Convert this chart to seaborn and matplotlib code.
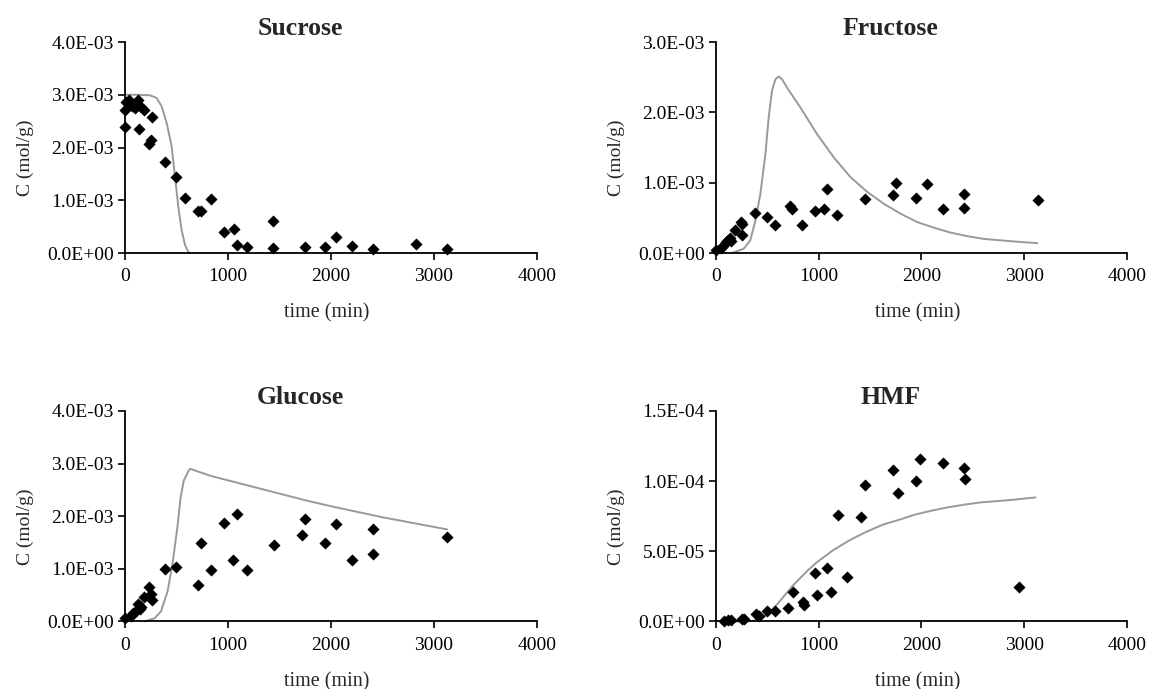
import numpy as np
import pandas as pd
import matplotlib
matplotlib.use("Agg")
import matplotlib.pyplot as plt
from matplotlib.ticker import FuncFormatter
import seaborn as sns

# measured data (time in min, concentration in mol/g)
sucrose_t = [0, 0, 10, 36, 64, 100, 128, 135, 153, 189, 260, 235, 249, 385, 492, 580,
             712, 741, 833, 962, 1054, 1083, 1186, 1435, 1435, 1749, 1945, 2048, 2201,
             2408, 2828, 3124]
sucrose_c = [2.39e-3, 2.71e-3, 2.87e-3, 2.90e-3, 2.78e-3, 2.74e-3, 2.90e-3, 2.36e-3,
             2.77e-3, 2.71e-3, 2.58e-3, 2.07e-3, 2.15e-3, 1.72e-3, 1.45e-3, 1.05e-3,
             0.79e-3, 0.79e-3, 1.02e-3, 0.39e-3, 0.45e-3, 0.15e-3, 0.11e-3, 0.60e-3,
             0.09e-3, 0.11e-3, 0.11e-3, 0.31e-3, 0.14e-3, 0.08e-3, 0.18e-3, 0.08e-3]

fructose_t = [0, 46, 71, 96, 118, 132, 145, 186, 239, 250, 257, 382, 493, 579, 721,
              743, 839, 964, 1054, 1082, 1182, 1446, 1721, 1754, 1946, 2054, 2207,
              2411, 2411, 3132]
fructose_c = [0.04e-3, 0.07e-3, 0.10e-3, 0.15e-3, 0.19e-3, 0.21e-3, 0.17e-3, 0.33e-3,
              0.44e-3, 0.41e-3, 0.25e-3, 0.57e-3, 0.51e-3, 0.40e-3, 0.67e-3, 0.62e-3,
              0.40e-3, 0.60e-3, 0.62e-3, 0.91e-3, 0.54e-3, 0.77e-3, 0.83e-3, 1.00e-3,
              0.78e-3, 0.98e-3, 0.62e-3, 0.84e-3, 0.64e-3, 0.75e-3]

glucose_t = [0, 57, 82, 107, 128, 142, 160, 189, 235, 249, 260, 385, 495, 712, 741,
             837, 962, 1051, 1083, 1186, 1443, 1720, 1749, 1941, 2048, 2201, 2408,
             2408, 3127]
glucose_c = [0.06e-3, 0.11e-3, 0.16e-3, 0.20e-3, 0.34e-3, 0.24e-3, 0.27e-3, 0.46e-3,
             0.65e-3, 0.53e-3, 0.40e-3, 1.00e-3, 1.03e-3, 0.69e-3, 1.50e-3, 0.97e-3,
             1.88e-3, 1.17e-3, 2.05e-3, 0.97e-3, 1.46e-3, 1.64e-3, 1.94e-3, 1.50e-3,
             1.86e-3, 1.17e-3, 1.75e-3, 1.29e-3, 1.60e-3]

hmf_t = [82, 118, 143, 250, 275, 385, 421, 499, 570, 702, 749, 845, 856, 963, 980,
         1080, 1123, 1184, 1273, 1408, 1451, 1722, 1772, 1950, 1989, 2210, 2417, 2424,
         2952]
hmf_c = [0.05e-5, 0.10e-5, 0.12e-5, 0.17e-5, 0.20e-5, 0.52e-5, 0.40e-5, 0.76e-5,
         0.76e-5, 0.99e-5, 2.13e-5, 1.42e-5, 1.18e-5, 3.47e-5, 1.89e-5, 3.80e-5,
         2.13e-5, 7.56e-5, 3.19e-5, 7.42e-5, 9.76e-5, 10.77e-5, 9.19e-5, 10.04e-5,
         11.58e-5, 11.27e-5, 10.94e-5, 10.13e-5, 2.46e-5]

# model curves
sucrose_mt = [0, 120, 243, 307, 356, 405, 453, 485, 518, 550, 583, 615, 635]
sucrose_mc = [3.00e-3, 3.00e-3, 2.99e-3, 2.94e-3, 2.78e-3, 2.46e-3, 2.02e-3, 1.45e-3,
              0.87e-3, 0.43e-3, 0.15e-3, 0.02e-3, 0.0]

fructose_mt = [156, 269, 334, 383, 432, 481, 513, 545, 578, 610, 643, 692, 821, 984,
               1146, 1308, 1471, 1633, 1795, 1958, 2120, 2282, 2445, 2607, 2769, 2932,
               3127]
fructose_mc = [0.0, 0.06e-3, 0.18e-3, 0.46e-3, 0.84e-3, 1.41e-3, 1.93e-3, 2.31e-3,
               2.47e-3, 2.51e-3, 2.47e-3, 2.35e-3, 2.07e-3, 1.69e-3, 1.36e-3, 1.08e-3,
               0.87e-3, 0.70e-3, 0.56e-3, 0.44e-3, 0.36e-3, 0.29e-3, 0.24e-3, 0.20e-3,
               0.18e-3, 0.16e-3, 0.14e-3]

glucose_mt = [190, 286, 349, 413, 460, 508, 540, 571, 619, 635, 825, 1143, 1460, 1778,
              2000, 2500, 3127]
glucose_mc = [0.0, 0.06e-3, 0.19e-3, 0.57e-3, 1.08e-3, 1.78e-3, 2.36e-3, 2.68e-3,
              2.87e-3, 2.90e-3, 2.77e-3, 2.61e-3, 2.45e-3, 2.29e-3, 2.19e-3, 1.98e-3,
              1.75e-3]

hmf_mt = [100, 250, 369, 450, 520, 593, 650, 700, 760, 820, 890, 978, 1138, 1298, 1458,
          1619, 1779, 1939, 2099, 2260, 2420, 2580, 2740, 2901, 3109]
hmf_mc = [0.0, 0.0, 0.05e-5, 0.25e-5, 0.65e-5, 1.20e-5, 1.70e-5, 2.15e-5, 2.65e-5,
          3.10e-5, 3.62e-5, 4.20e-5, 5.07e-5, 5.78e-5, 6.37e-5, 6.89e-5, 7.24e-5,
          7.62e-5, 7.90e-5, 8.14e-5, 8.33e-5, 8.49e-5, 8.58e-5, 8.68e-5, 8.84e-5]

panels = [
    ("Sucrose", sucrose_t, sucrose_c, sucrose_mt, sucrose_mc, [0, 1e-3, 2e-3, 3e-3, 4e-3]),
    ("Fructose", fructose_t, fructose_c, fructose_mt, fructose_mc, [0, 1e-3, 2e-3, 3e-3]),
    ("Glucose", glucose_t, glucose_c, glucose_mt, glucose_mc, [0, 1e-3, 2e-3, 3e-3, 4e-3]),
    ("HMF", hmf_t, hmf_c, hmf_mt, hmf_mc, [0, 5e-5, 1e-4, 1.5e-4]),
]
x_ticks = [0, 1000, 2000, 3000, 4000]

# axes boxes in figure fractions [left, bottom, width, height]
boxes = [
    [0.1087, 0.6328, 0.3583, 0.3062],
    [0.6226, 0.6328, 0.3574, 0.3062],
    [0.1087, 0.0980, 0.3583, 0.3055],
    [0.6226, 0.0980, 0.3574, 0.3055],
]

sns.set_style("ticks")
plt.rcParams["font.family"] = ["Liberation Serif", "DejaVu Serif"]


def sci_fmt(v, pos):
    return "%.1E" % v


fig = plt.figure(figsize=(11.5, 6.89), dpi=100)

for (name, t, c, mt, mc, yt), box in zip(panels, boxes):
    ax = fig.add_axes(box)
    model = pd.DataFrame({"t": mt, "c": mc})
    meas = pd.DataFrame({"t": t, "c": c})
    sns.lineplot(data=model, x="t", y="c", ax=ax, color="#999999", linewidth=1.4,
                 estimator=None, sort=False, clip_on=False, zorder=2)
    sns.scatterplot(data=meas, x="t", y="c", ax=ax, marker="D", s=34, color="black",
                    edgecolor="black", linewidth=0.3, clip_on=False, zorder=3)
    ax.set_xlim(0, 4000)
    ax.set_ylim(yt[0], yt[-1])
    ax.set_xticks(x_ticks)
    ax.set_yticks(yt)
    ax.yaxis.set_major_formatter(FuncFormatter(sci_fmt))
    for side in ["top", "right"]:
        ax.spines[side].set_visible(False)
    for side in ["left", "bottom"]:
        ax.spines[side].set_linewidth(1.3)
        ax.spines[side].set_color("black")
    ax.tick_params(axis="both", direction="out", length=5, width=1.2, colors="black",
                   labelsize=14, pad=3)
    ax.tick_params(axis="x", pad=6)
    ax.set_xlabel("time (min)", fontsize=14.5)
    ax.set_ylabel("C (mol/g)", fontsize=14)
    ax.xaxis.set_label_coords(0.49, -0.24)
    ax.yaxis.set_label_coords(-0.222, 0.45)
    ax.set_title(name, fontsize=18.5, fontweight="bold", x=0.425, y=1.0, pad=5)

fig.savefig("out.png", dpi=100, facecolor="white")
